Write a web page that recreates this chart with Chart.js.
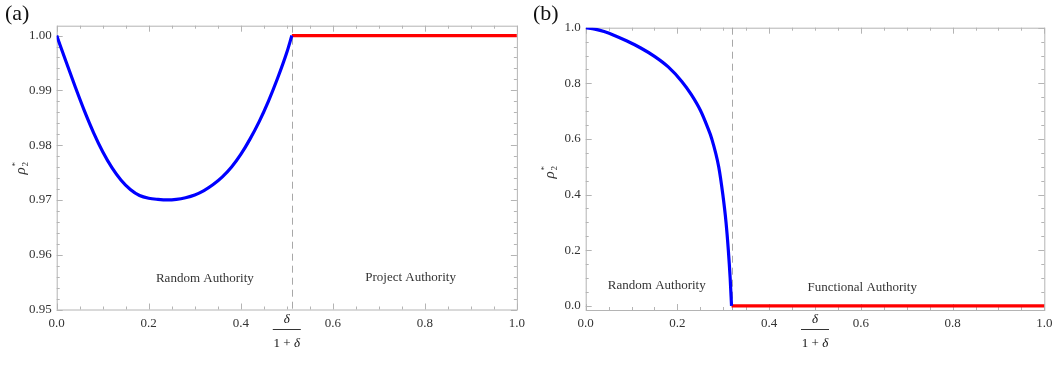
<!DOCTYPE html>
<html>
<head>
<meta charset="utf-8">
<script src="https://cdn.jsdelivr.net/npm/chart.js@4.4.1/dist/chart.umd.min.js"></script>
<style>
  body { margin: 0; background: #fff; }
  .wrap { display: flex; width: 1062px; height: 380px; }
  canvas { display: block; }
</style>
</head>
<body>
<div class="wrap">
  <canvas id="chartA" width="531" height="380"></canvas>
  <canvas id="chartB" width="531" height="380"></canvas>
</div>
<script>
// ===== data =====
const xTicks = [0.0, 0.2, 0.4, 0.6, 0.8, 1.0];

// panel (a)
const yTicksA = [0.95, 0.96, 0.97, 0.98, 0.99, 1.00];
const blueXA = [0, 0.02, 0.04, 0.06, 0.08, 0.10, 0.12, 0.14, 0.16, 0.18, 0.20, 0.22, 0.24, 0.26, 0.28, 0.30, 0.32, 0.34, 0.36, 0.38, 0.40, 0.42, 0.44, 0.46, 0.48, 0.50, 0.511];
const blueYA = [1.000, 0.9953, 0.9907, 0.9863, 0.9823, 0.9788, 0.9759, 0.9736, 0.9719, 0.9708, 0.9703, 0.9701, 0.9700, 0.9701, 0.9704, 0.9709, 0.9717, 0.9728, 0.9742, 0.9760, 0.9783, 0.9811, 0.9843, 0.9880, 0.9922, 0.9969, 1.000];
const redXA = [0.511, 1.0];
const redYA = [1.0, 1.0];
const switchA = 0.511;

// panel (b)
const yTicksB = [0.0, 0.2, 0.4, 0.6, 0.8, 1.0];
const blueXB = [0, 0.02, 0.04, 0.06, 0.09, 0.12, 0.15, 0.18, 0.21, 0.23, 0.25, 0.265, 0.275, 0.29, 0.299, 0.306, 0.311, 0.315, 0.318];
const blueYB = [1.000, 0.995, 0.986, 0.974, 0.952, 0.927, 0.897, 0.859, 0.806, 0.760, 0.703, 0.645, 0.600, 0.500, 0.400, 0.300, 0.200, 0.100, 0.000];
const redXB = [0.318, 1.0];
const redYB = [0.0, 0.0];
const switchB = 0.318;

const SERIF = '"Liberation Serif", "DejaVu Serif", serif';
const TXT = '#333';
const FRAME = '#b4b4b4';

function pts(xs, ys) { return xs.map((x, i) => ({ x: x, y: ys[i] })); }

// frame, inward ticks, dashed switch line, annotations and titles
const decorPlugin = {
  id: 'decor',
  beforeDatasetsDraw(chart, args, o) {
    const { ctx, chartArea: a, scales: { x, y } } = chart;
    ctx.save();
    ctx.strokeStyle = FRAME;
    ctx.lineWidth = 1;
    ctx.strokeRect(a.left + 0.5, a.top + 0.5, a.right - a.left, a.bottom - a.top);

    const line = (x1, y1, x2, y2) => { ctx.beginPath(); ctx.moveTo(x1, y1); ctx.lineTo(x2, y2); ctx.stroke(); };
    // x ticks (bottom and top)
    for (let v = 0; v <= 1.0001; v += 0.05) {
      const px = Math.round(x.getPixelForValue(v)) + 0.5;
      const major = Math.abs(v / 0.2 - Math.round(v / 0.2)) < 1e-6;
      const len = major ? 6 : 3;
      line(px, a.bottom, px, a.bottom - len);
      line(px, a.top, px, a.top + len);
    }
    // y ticks (left and right)
    const n = Math.round((o.yMax - o.yMin) / o.yMinor);
    for (let i = 0; i <= n + 1; i++) {
      const v = o.yMin + i * o.yMinor;
      if (v > y.max + 1e-9) break;
      const py = Math.round(y.getPixelForValue(v)) + 0.5;
      const major = i % o.perMajor === 0;
      const len = major ? 6 : 3;
      line(a.left, py, a.left + len, py);
      line(a.right, py, a.right - len, py);
    }

    // dashed switch line
    ctx.setLineDash([7, 5]);
    ctx.strokeStyle = '#a8a8a8';
    const sx = Math.round(x.getPixelForValue(o.switchX)) + 0.5;
    line(sx, a.top, sx, a.bottom);
    ctx.setLineDash([]);

    // region labels
    ctx.fillStyle = TXT;
    ctx.font = '13px ' + SERIF;
    ctx.textAlign = 'center';
    ctx.textBaseline = 'middle';
    o.notes.forEach(t => ctx.fillText(t.text, x.getPixelForValue(t.x), y.getPixelForValue(t.y)));

    // panel label
    ctx.textAlign = 'left';
    ctx.font = '22px ' + SERIF;
    ctx.fillStyle = '#111';
    ctx.fillText(o.panel, o.panelX, 14);

    // y title: rho_2^*
    ctx.save();
    ctx.translate(o.yTitleX, o.yTitleY);
    ctx.rotate(-Math.PI / 2);
    ctx.textAlign = 'left';
    ctx.textBaseline = 'alphabetic';
    ctx.fillStyle = TXT;
    ctx.font = 'italic 15px ' + SERIF;
    const w = ctx.measureText('ρ').width;
    ctx.fillText('ρ', -w / 2 - 3, 4);
    ctx.font = '9px ' + SERIF;
    ctx.fillText('2', w / 2 - 2, 7);
    ctx.fillText('*', w / 2 - 2, -3);
    ctx.restore();

    // x title: delta / (1 + delta)
    const cx = (a.left + a.right) / 2;
    ctx.textAlign = 'center';
    ctx.textBaseline = 'alphabetic';
    ctx.font = 'italic 13px ' + SERIF;
    ctx.fillText('δ', cx, 323);
    ctx.strokeStyle = TXT;
    line(cx - 14, 329.5, cx + 14, 329.5);
    ctx.font = '13px ' + SERIF;
    const p1 = '1 + ';
    const w1 = ctx.measureText(p1).width;
    ctx.font = 'italic 13px ' + SERIF;
    const w2 = ctx.measureText('δ').width;
    const sx0 = cx - (w1 + w2) / 2;
    ctx.textAlign = 'left';
    ctx.font = '13px ' + SERIF;
    ctx.fillText(p1, sx0, 347);
    ctx.font = 'italic 13px ' + SERIF;
    ctx.fillText('δ', sx0 + w1, 347);
    ctx.restore();
  }
};

function makeChart(id, c) {
  return new Chart(document.getElementById(id), {
    type: 'line',
    data: {
      datasets: [
        { data: pts(c.bx, c.by), borderColor: '#0000ff', borderWidth: 3.2, pointRadius: 0, cubicInterpolationMode: 'monotone' },
        { data: pts(c.rx, c.ry), borderColor: '#ff0000', borderWidth: 3.2, pointRadius: 0 }
      ]
    },
    options: {
      responsive: false,
      animation: false,
      events: [],
      layout: { padding: { left: 0, right: c.padRight, top: c.padTop, bottom: 0 } },
      plugins: {
        legend: { display: false },
        tooltip: { enabled: false },
        decor: c.decor
      },
      scales: {
        x: {
          type: 'linear', min: 0, max: 1,
          grid: { display: false, drawTicks: false },
          border: { display: false },
          afterBuildTicks: s => { s.ticks = xTicks.map(v => ({ value: v })); },
          afterFit: s => { s.height = c.xHeight; },
          ticks: { padding: 6, color: TXT, font: { family: SERIF, size: 13 }, maxRotation: 0, callback: v => v.toFixed(1) }
        },
        y: {
          type: 'linear', min: c.yMin, max: c.yMax,
          grid: { display: false, drawTicks: false },
          border: { display: false },
          afterBuildTicks: s => { s.ticks = c.yTicks.map(v => ({ value: v })); },
          afterFit: s => { s.width = c.yWidth; },
          ticks: { padding: 5, color: TXT, font: { family: SERIF, size: 13 }, callback: v => v.toFixed(c.dec) }
        }
      }
    },
    plugins: [decorPlugin]
  });
}

makeChart('chartA', {
  bx: blueXA, by: blueYA, rx: redXA, ry: redYA,
  yMin: 0.95, yMax: 1.0018, yTicks: yTicksA, dec: 2,
  padRight: 531 - 517.7, padTop: 25.7, xHeight: 380 - 309.5, yWidth: 56.7,
  decor: {
    yMin: 0.95, yMax: 1.0018, yMinor: 0.002, perMajor: 5, switchX: switchA,
    panel: '(a)', panelX: 5, yTitleX: 21, yTitleY: 168,
    notes: [
      { text: 'Random Authority', x: 0.322, y: 0.9557 },
      { text: 'Project Authority', x: 0.769, y: 0.9559 }
    ]
  }
});

makeChart('chartB', {
  bx: blueXB, by: blueYB, rx: redXB, ry: redYB,
  yMin: -0.015, yMax: 1.0, yTicks: yTicksB, dec: 1,
  padRight: 531 - 513.3, padTop: 27.7, xHeight: 380 - 310, yWidth: 54.7,
  decor: {
    yMin: 0.0, yMax: 1.0, yMinor: 0.05, perMajor: 4, switchX: switchB,
    panel: '(b)', panelX: 2, yTitleX: 19, yTitleY: 172,
    notes: [
      { text: 'Random Authority', x: 0.155, y: 0.074 },
      { text: 'Functional Authority', x: 0.603, y: 0.067 }
    ]
  }
});
</script>
</body>
</html>
